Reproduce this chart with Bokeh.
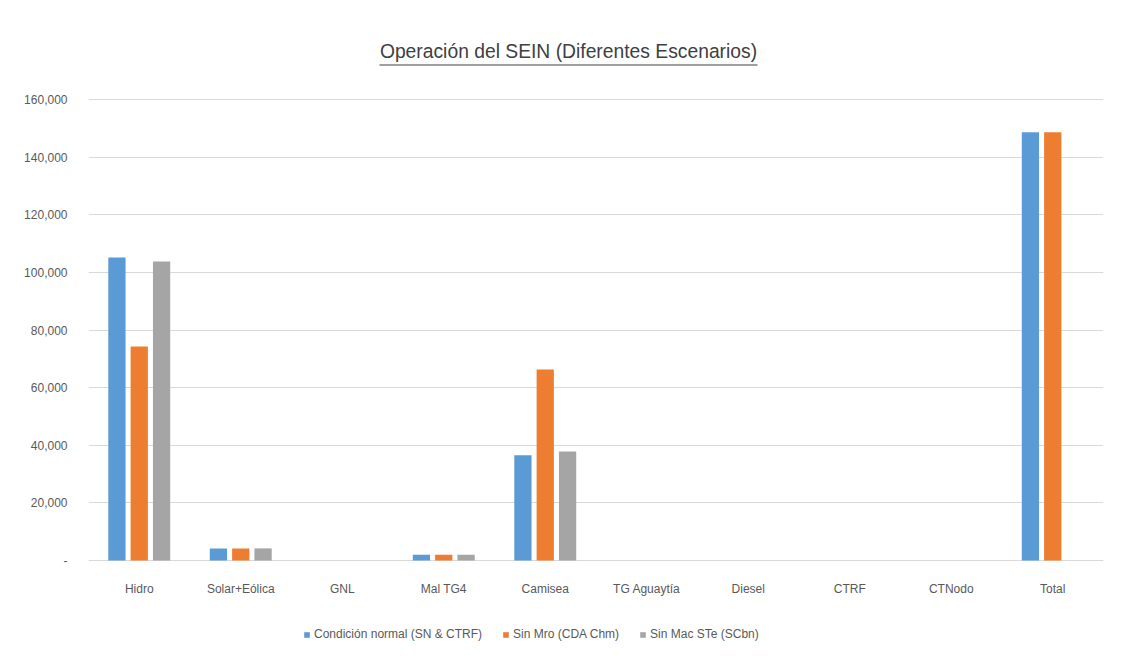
from bokeh.plotting import figure
from bokeh.models import ColumnDataSource, FactorRange, Legend, LegendItem, FixedTicker, Range1d, Label, BoxAnnotation
from bokeh.core.properties import value
from bokeh.transform import dodge
from bokeh.embed import file_html
from bokeh.resources import INLINE

categories = ["Hidro", "Solar+Eólica", "GNL", "Mal TG4", "Camisea", "TG Aguaytía", "Diesel", "CTRF", "CTNodo", "Total"]
normal = [105200, 4200, 0, 2000, 36500, 0, 0, 0, 0, 148600]
sin_mro = [74300, 4200, 0, 2000, 66300, 0, 0, 0, 0, 148600]
sin_mac = [103800, 4200, 0, 2000, 37800, 0, 0, 0, 0, 0]
series_names = ["Condición normal (SN & CTRF)", "Sin Mro (CDA Chm)", "Sin Mac STe (SCbn)"]
colors = ["#5B9BD5", "#ED7D31", "#A5A5A5"]
y_ticks = [0, 20000, 40000, 60000, 80000, 100000, 120000, 140000, 160000]
y_tick_labels = ["-", "20,000", "40,000", "60,000", "80,000", "100,000", "120,000", "140,000", "160,000"]
title_text = "Operación del SEIN (Diferentes Escenarios)"

FONT = "Liberation Sans"
W, H = 1127, 661
LEFT, RIGHT = 88, 24
Y_TOP_PX, Y_ZERO_PX = 99, 560        # canvas rows of the top tick and the zero line
y_max = y_ticks[-1]
per_px = y_max / (Y_ZERO_PX - Y_TOP_PX)
y_lo = -(H - Y_ZERO_PX) * per_px
y_hi = y_max + Y_TOP_PX * per_px
label_y = -28 * per_px               # category labels 28 px below the zero line

src = ColumnDataSource(dict(cat=categories, a=normal, b=sin_mro, c=sin_mac,
                            ly=[label_y] * len(categories)))

p = figure(width=W, height=H, x_range=FactorRange(*categories, range_padding=0),
           y_range=Range1d(y_lo, y_hi), output_backend="svg", toolbar_location=None,
           min_border_left=LEFT, min_border_right=RIGHT, min_border_top=0, min_border_bottom=0)
p.outline_line_color = None
p.background_fill_color = "white"
p.border_fill_color = "white"
p.xaxis.visible = False

renderers = []
for key, off, col in zip(["a", "b", "c"], [-0.22, 0.0, 0.22], colors):
    r = p.vbar(x=dodge("cat", off, range=p.x_range), top=key, width=0.17, source=src,
               fill_color=col, line_color=None)
    renderers.append(r)

p.text(x="cat", y="ly", text="cat", source=src, text_align="center", text_baseline="middle",
       text_font=value(FONT), text_font_size="12px", text_color="#595959")

p.yaxis.ticker = FixedTicker(ticks=y_ticks)
p.yaxis.major_label_overrides = {t: l for t, l in zip(y_ticks, y_tick_labels)}
p.yaxis.axis_line_color = None
p.yaxis.major_tick_line_color = None
p.yaxis.minor_tick_line_color = None
p.yaxis.major_label_standoff = 15
p.yaxis.major_label_text_font = FONT
p.yaxis.major_label_text_font_size = "12px"
p.yaxis.major_label_text_color = "#595959"

p.xgrid.grid_line_color = None
p.ygrid.grid_line_color = "#D9D9D9"
p.ygrid.grid_line_width = 1

legend = Legend(items=[LegendItem(label=n, renderers=[r]) for n, r in zip(series_names, renderers)],
                orientation="horizontal", location=(215, 20),
                label_text_font=FONT, label_text_font_size="12px",
                label_text_color="#595959", glyph_width=7, glyph_height=7,
                spacing=20, label_standoff=4, background_fill_alpha=0, border_line_color=None,
                padding=2, margin=0)
p.add_layout(legend, "center")

tx = 568 - LEFT
ty = H - 51
p.add_layout(Label(x=tx, y=ty, x_units="screen", y_units="screen", text=title_text,
                   text_align="center", text_baseline="alphabetic",
                   text_font=FONT, text_font_size="19.3px", text_color="#404040"))
p.add_layout(BoxAnnotation(left=tx - 189, right=tx + 189, bottom=H - 65, top=H - 64,
                           left_units="screen", right_units="screen",
                           top_units="screen", bottom_units="screen",
                           fill_color="#404040", fill_alpha=1, line_color=None))

open("out.html", "w").write(file_html(p, INLINE))
